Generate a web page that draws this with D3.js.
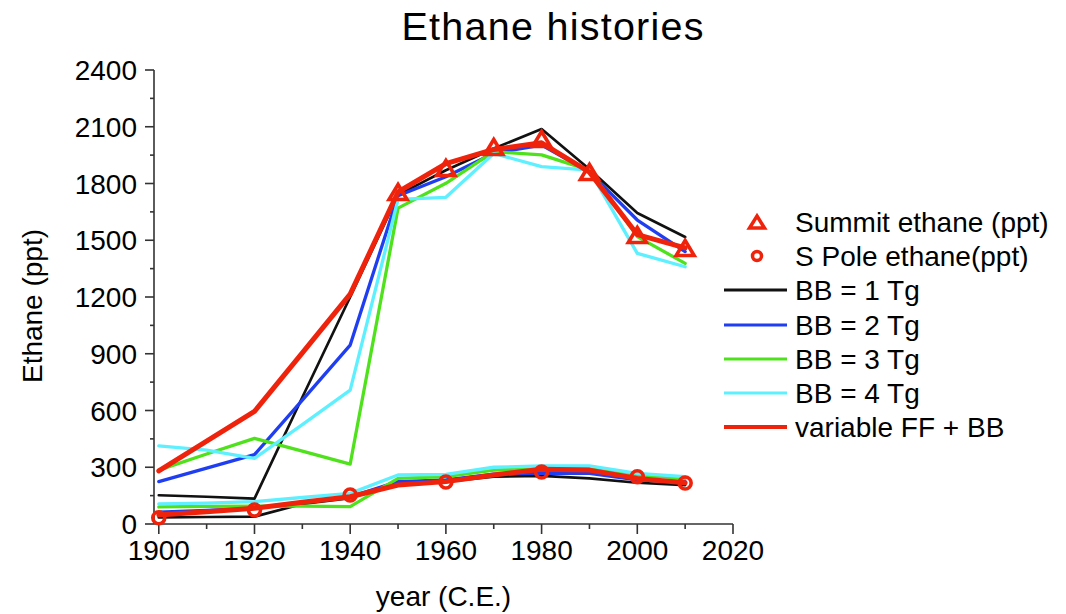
<!DOCTYPE html>
<html>
<head>
<meta charset="utf-8">
<script src="https://cdn.jsdelivr.net/npm/d3@7"></script>
<style>
  html, body { margin: 0; padding: 0; background: #fff; }
  svg { display: block; font-family: "Liberation Sans", Arial, Helvetica, sans-serif; }
</style>
</head>
<body>
<svg id="chart" width="1066" height="614"></svg>
<script>
// ---------- data ----------
const years = [1900, 1910, 1920, 1930, 1940, 1950, 1960, 1970, 1980, 1990, 2000, 2010];

// Summit (upper) model histories
const summitBB1 = [152, 144, 134, 670, 1200, 1740, 1870, 1985, 2088, 1875, 1644, 1517];
const summitBB2 = [224, 295, 367, 655, 946, 1735, 1836, 1960, 2003, 1860, 1607, 1440];
const summitBB3 = [285, 370, 453, 385, 317, 1670, 1801, 1968, 1951, 1871, 1519, 1378];
const summitBB4 = [413, 391, 347, 525, 708, 1716, 1727, 1959, 1889, 1871, 1431, 1360];
const summitVar = [281, 438, 595, 905, 1215, 1755, 1905, 1980, 2015, 1860, 1530, 1460];

// South Pole (lower) model histories
const spoleBB1 = [35, 37, 39, 106, 137, 215, 224, 250, 254, 241, 218, 206];
const spoleBB2 = [62, 72, 83, 115, 144, 224, 233, 264, 268, 268, 233, 224];
const spoleBB3 = [90, 93, 95, 94, 92, 241, 250, 285, 294, 294, 259, 241];
const spoleBB4 = [106, 110, 118, 140, 162, 259, 262, 300, 307, 307, 268, 250];
const spoleVar = [48, 65, 83, 115, 144, 206, 224, 259, 289, 285, 241, 218];

// Observations
const summitObsYears = [1950, 1960, 1970, 1980, 1990, 2000, 2010];
const summitObs = [1755, 1882, 1993, 2035, 1861, 1528, 1459];
const spoleObsYears = [1900, 1920, 1940, 1960, 1980, 2000, 2010];
const spoleObs = [33, 74, 153, 222, 275, 250, 217];

// Axis ticks
const xTicks = [1900, 1920, 1940, 1960, 1980, 2000, 2020];
const xMinorTicks = [1910, 1930, 1950, 1970, 1990, 2010];
const yTicks = [0, 300, 600, 900, 1200, 1500, 1800, 2100, 2400];
const yMinorTicks = [150, 450, 750, 1050, 1350, 1650, 1950, 2250];

const seriesNames = ["BB = 1 Tg", "BB = 2 Tg", "BB = 3 Tg", "BB = 4 Tg", "variable FF + BB"];
const obsNames = ["Summit ethane (ppt)", "S Pole ethane(ppt)"];

// ---------- styles ----------
const colors = ["#111111", "#1f3ef2", "#4fe21c", "#5ef0ff", "#ef230c"];
const widths = [2.7, 3.3, 3.3, 3.3, 5];
const obsColor = "#ef230c";

const svg = d3.select("#chart");
const x = d3.scaleLinear().domain([1899, 2020]).range([154, 733]);
const y = d3.scaleLinear().domain([0, 2400]).range([524, 70]);

const fontSize = 28;
const axisColor = "#333";

// ---------- axes ----------
const gx = svg.append("g").attr("transform", "translate(0,524)");
gx.append("line").attr("x1", x.range()[0]).attr("x2", x.range()[1])
  .attr("stroke", axisColor).attr("stroke-width", 1.6);
gx.selectAll("line.maj").data(xTicks).join("line")
  .attr("x1", d => x(d)).attr("x2", d => x(d)).attr("y1", 0).attr("y2", 10)
  .attr("stroke", axisColor).attr("stroke-width", 1.6);
gx.selectAll("line.min").data(xMinorTicks).join("line")
  .attr("x1", d => x(d)).attr("x2", d => x(d)).attr("y1", 0).attr("y2", 5)
  .attr("stroke", axisColor).attr("stroke-width", 1.6);
gx.selectAll("text").data(xTicks).join("text")
  .attr("x", d => x(d)).attr("y", 36).attr("text-anchor", "middle")
  .attr("font-size", fontSize).attr("fill", "#000").text(d => d);

const gy = svg.append("g").attr("transform", "translate(154,0)");
gy.append("line").attr("y1", y.range()[0]).attr("y2", y.range()[1])
  .attr("stroke", axisColor).attr("stroke-width", 1.6);
gy.selectAll("line.maj").data(yTicks).join("line")
  .attr("y1", d => y(d)).attr("y2", d => y(d)).attr("x1", 0).attr("x2", -9)
  .attr("stroke", axisColor).attr("stroke-width", 1.6);
gy.selectAll("line.min").data(yMinorTicks).join("line")
  .attr("y1", d => y(d)).attr("y2", d => y(d)).attr("x1", 0).attr("x2", -4)
  .attr("stroke", axisColor).attr("stroke-width", 1.6);
gy.selectAll("text").data(yTicks).join("text")
  .attr("x", -17).attr("y", d => y(d)).attr("dy", "0.36em").attr("text-anchor", "end")
  .attr("font-size", fontSize).attr("fill", "#000").text(d => d);

// axis titles
svg.append("text").attr("x", 443.5).attr("y", 606).attr("text-anchor", "middle")
  .attr("font-size", fontSize).attr("fill", "#000").text("year (C.E.)");
svg.append("text").attr("transform", "translate(42,306) rotate(-90)")
  .attr("text-anchor", "middle").attr("font-size", fontSize).attr("fill", "#000")
  .text("Ethane (ppt)");

// title
svg.append("text").attr("x", 552.5).attr("y", 40).attr("text-anchor", "middle")
  .attr("font-size", 39.5).attr("fill", "#000")
  .attr("textLength", 302).attr("lengthAdjust", "spacing")
  .text("Ethane histories");

// ---------- lines ----------
const line = d3.line().x(d => x(d[0])).y(d => y(d[1]));
const upper = [summitBB1, summitBB2, summitBB3, summitBB4, summitVar];
const lower = [spoleBB1, spoleBB2, spoleBB3, spoleBB4, spoleVar];

const gl = svg.append("g").attr("fill", "none")
  .attr("stroke-linejoin", "round").attr("stroke-linecap", "round");
[lower, upper].forEach(group => {
  group.forEach((vals, i) => {
    gl.append("path")
      .datum(years.map((yr, k) => [yr, vals[k]]))
      .attr("d", line)
      .attr("stroke", colors[i])
      .attr("stroke-width", widths[i]);
  });
});

// ---------- markers ----------
function triPath(cx, cy, w, h) {
  return `M${cx},${cy - h / 2}L${cx + w / 2},${cy + h / 2}L${cx - w / 2},${cy + h / 2}Z`;
}
const gm = svg.append("g").attr("fill", "none").attr("stroke", obsColor)
  .attr("stroke-width", 3.6).attr("stroke-linejoin", "miter");
gm.selectAll("path.tri").data(summitObsYears.map((yr, k) => [yr, summitObs[k]])).join("path")
  .attr("d", d => triPath(x(d[0]), y(d[1]), 18, 15));
gm.selectAll("circle").data(spoleObsYears.map((yr, k) => [yr, spoleObs[k]])).join("circle")
  .attr("cx", d => x(d[0])).attr("cy", d => y(d[1])).attr("r", 6);

// ---------- legend ----------
const lg = svg.append("g");
const rowY = [222, 256, 290, 325, 359, 393, 427];
const textX = 795;
lg.append("path").attr("d", triPath(757, rowY[0], 15, 12))
  .attr("fill", "none").attr("stroke", obsColor).attr("stroke-width", 3.5);
lg.append("circle").attr("cx", 757).attr("cy", rowY[1]).attr("r", 4.5)
  .attr("fill", "none").attr("stroke", obsColor).attr("stroke-width", 3.5);
seriesNames.forEach((name, i) => {
  lg.append("line").attr("x1", 724).attr("x2", 787)
    .attr("y1", rowY[i + 2]).attr("y2", rowY[i + 2])
    .attr("stroke", colors[i]).attr("stroke-width", i === 4 ? 4 : 3);
});
const labels = obsNames.concat(seriesNames);
labels.forEach((name, i) => {
  lg.append("text").attr("x", textX).attr("y", rowY[i]).attr("dy", "0.36em")
    .attr("font-size", fontSize).attr("fill", "#000").text(name);
});
</script>
</body>
</html>
